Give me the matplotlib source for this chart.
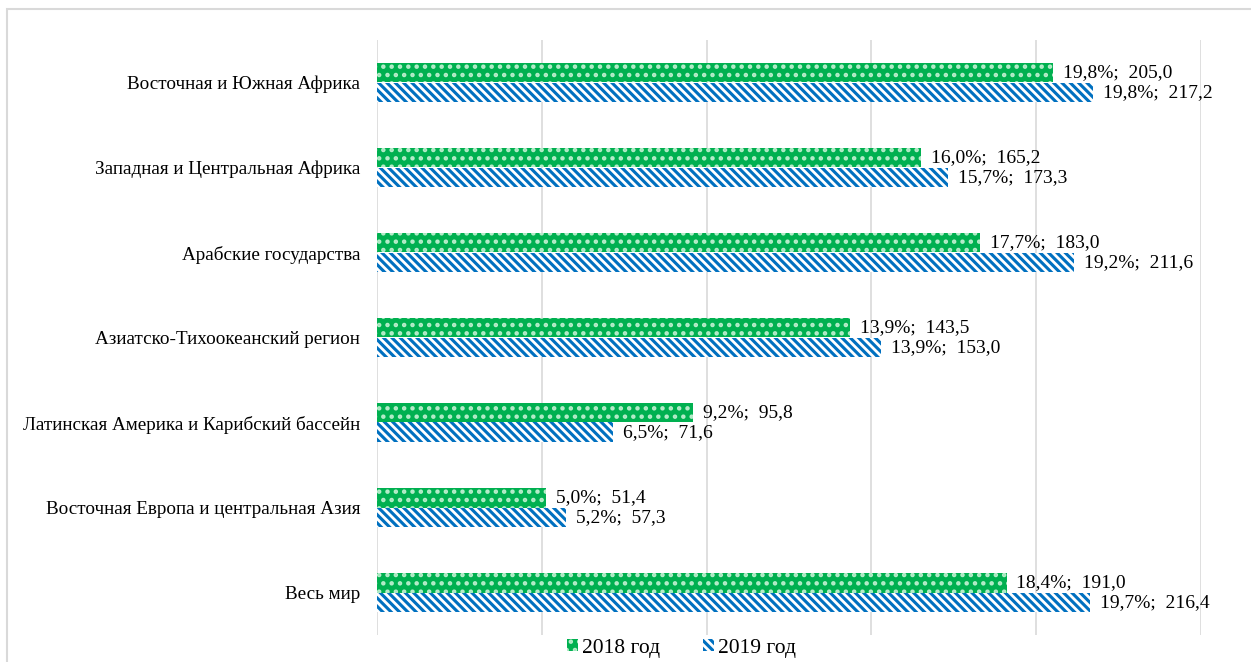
import matplotlib.pyplot as plt
import matplotlib.patches as mpatches
import numpy as np

plt.rcParams['font.family'] = ['Liberation Serif', 'DejaVu Serif']
plt.rcParams['hatch.linewidth'] = 2.0

regions = [
    "Восточная и Южная Африка",
    "Западная и Центральная Африка",
    "Арабские государства",
    "Азиатско-Тихоокеанский регион",
    "Латинская Америка и Карибский бассейн",
    "Восточная Европа и центральная Азия",
    "Весь мир",
]
values_2018 = [205.0, 165.2, 183.0, 143.5, 95.8, 51.4, 191.0]
share_2018 = [19.8, 16.0, 17.7, 13.9, 9.2, 5.0, 18.4]
values_2019 = [217.2, 173.3, 211.6, 153.0, 71.6, 57.3, 216.4]
share_2019 = [19.8, 15.7, 19.2, 13.9, 6.5, 5.2, 19.7]

green = '#00B050'
blue = '#0070C0'

fig = plt.figure(figsize=(12.51, 6.62), dpi=100, facecolor='white')
ax = fig.add_axes([377 / 1251, 1 - 635 / 662, (1201 - 377) / 1251, (635 - 40) / 662])

# chart frame (light gray, like the Excel chart area)
fig.patches.append(mpatches.Rectangle((7 / 1251, -0.1), 1.2, 1 - 9 / 662 + 0.1,
                                      transform=fig.transFigure, fill=False,
                                      edgecolor='#d9d9d9', linewidth=1.5))

y = np.arange(len(regions))
h = 0.235
b1 = ax.barh(y - h / 2, values_2018, height=h, color=green, edgecolor='#b5ecc9',
             hatch='..', linewidth=0, label='2018 год')
b2 = ax.barh(y + h / 2, values_2019, height=h, color=blue, edgecolor='white',
             hatch='\\\\\\\\', linewidth=0, label='2019 год')


def fmt(p, v):
    return f"{p:.1f}%;  {v:.1f}".replace('.', ',')


for yi, v, p in zip(y, values_2018, share_2018):
    ax.text(v + 3, yi - h / 2, fmt(p, v), va='center', ha='left', fontsize=14, clip_on=False)
for yi, v, p in zip(y, values_2019, share_2019):
    ax.text(v + 3, yi + h / 2, fmt(p, v), va='center', ha='left', fontsize=14, clip_on=False)

ax.set_xlim(0, 250)
ax.set_ylim(len(regions) - 0.5, -0.5)
ax.set_xticks(np.arange(0, 251, 50))
ax.set_xticklabels([])
ax.set_yticks(y)
ax.set_yticklabels(regions, fontsize=13.8)
ax.tick_params(axis='both', length=0)
ax.tick_params(axis='y', pad=12)
ax.grid(axis='x', color='#d9d9d9', linewidth=1.2)
ax.set_axisbelow(True)
for s in ax.spines.values():
    s.set_visible(False)

fig.legend(handles=[b1, b2], loc='center', bbox_to_anchor=(0.545, 1 - 648 / 662),
           ncol=2, frameon=False, fontsize=15.5, handlelength=0.5, handleheight=0.5,
           handletextpad=0.2, columnspacing=2.0)

fig.savefig('out.png', dpi=100, facecolor='white')
